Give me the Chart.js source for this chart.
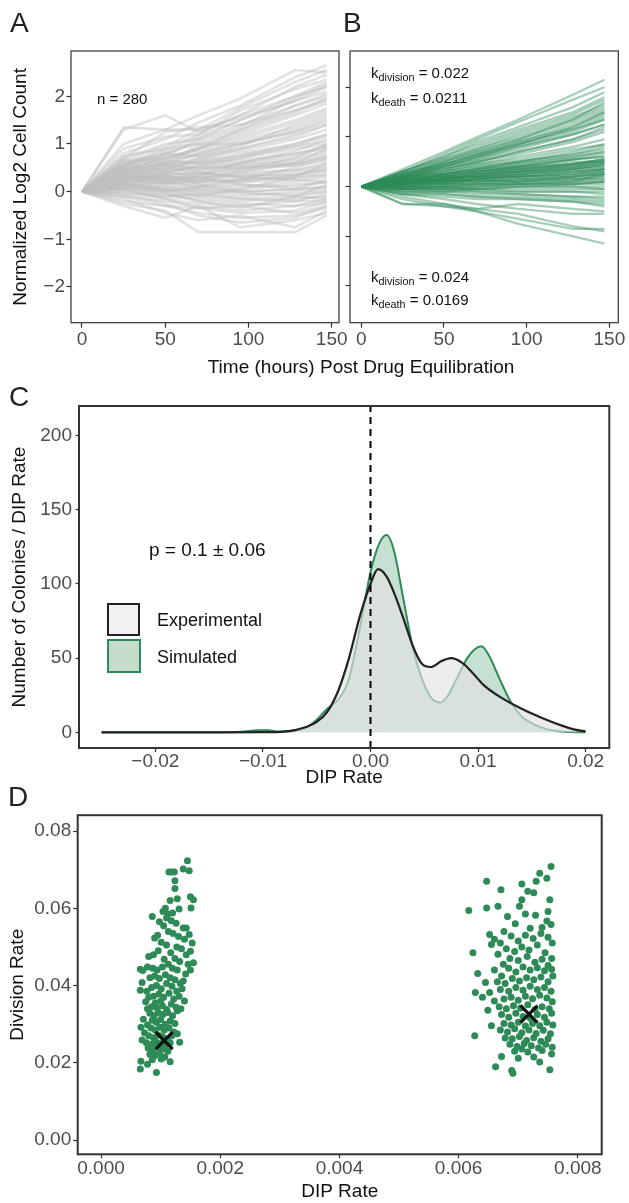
<!DOCTYPE html>
<html>
<head>
<meta charset="utf-8">
<script src="https://cdn.jsdelivr.net/npm/chart.js@4.4.1/dist/chart.umd.min.js"></script>
<style>
  body { margin: 0; background: #fff; }
  #page { position: relative; width: 629px; height: 1203px; overflow: hidden; font-family: 'Liberation Sans', Arial, sans-serif; }
  canvas { position: absolute; }
  .txt { position: absolute; white-space: nowrap; color: #111; }
  .letter { font-size: 28px; line-height: 28px; color: #222; }
  .note { font-size: 15px; line-height: 15px; }
  .note sub { font-size: 0.72em; vertical-align: -0.3em; line-height: 0; }
  .axt { font-size: 19px; line-height: 22px; }
  .leg { position: absolute; width: 30px; height: 30px; }
</style>
</head>
<body>
<div id="page">
  <canvas id="chartA" width="360" height="325" style="left:0px;top:35px"></canvas>
  <canvas id="chartB" width="289" height="325" style="left:340px;top:35px"></canvas>
  <canvas id="chartC" width="629" height="405" style="left:0px;top:390px"></canvas>
  <canvas id="chartD" width="629" height="403" style="left:0px;top:800px"></canvas>

  <div class="txt letter" style="left:10px;top:9px">A</div>
  <div class="txt letter" style="left:343px;top:9px">B</div>
  <div class="txt letter" style="left:9px;top:383px">C</div>
  <div class="txt letter" style="left:8px;top:783px">D</div>

  <div class="txt note" style="left:97px;top:91px">n = 280</div>
  <div class="txt note" style="left:371px;top:65px">k<sub>division</sub> = 0.022</div>
  <div class="txt note" style="left:371px;top:90px">k<sub>death</sub> = 0.0211</div>
  <div class="txt note" style="left:371px;top:269px">k<sub>division</sub> = 0.024</div>
  <div class="txt note" style="left:371px;top:292px">k<sub>death</sub> = 0.0169</div>
  <div class="txt axt" style="left:161px;top:356px;width:400px;text-align:center">Time (hours) Post Drug Equilibration</div>

  <div class="txt" style="left:149px;top:540px;font-size:19px;line-height:19px">p = 0.1 ± 0.06</div>
  <div class="leg" style="left:107px;top:603px;background:#f2f2f2;border:2.5px solid #222;width:29px;height:29px"></div>
  <div class="leg" style="left:107px;top:639px;background:#c5dcca;border:2px solid #2e8b57;width:30px;height:30px"></div>
  <div class="txt" style="left:157px;top:611px;font-size:18px;line-height:18px">Experimental</div>
  <div class="txt" style="left:157px;top:648px;font-size:18px;line-height:18px">Simulated</div>
</div>
<script>
Chart.defaults.font.family = "'Liberation Sans', Arial, sans-serif"

// panels A and B: normalized log2 cell count per colony
const hours = [0, 25, 50, 70, 95, 128, 147]
const expLines = [
	[0, 1.35, 1.3, 1.3, 1.55, 1.9, 2.1],
	[0, 1.3, 1.6, 1.25, 1.6, 2.0, 2.3],
	[0, 1.0, 1.3, 1.6, 1.95, 2.55, 2.5],
	[0, 0.8, 1.1, 1.45, 1.8, 2.4, 2.65],
	[0, 0.75, 0.9, 1.2, 1.6, 2.2, 2.45],
	[0, 0.7, 1.0, 1.1, 1.5, 1.9, 2.2],
	[0, 0.6, 0.8, 1.0, 1.3, 1.8, 2.0],
	[0, 0.65, 0.7, 0.9, 1.2, 1.6, 1.85],
	[0, 0.55, 0.75, 0.85, 1.1, 1.45, 1.7],
	[0, 0.5, 0.6, 0.8, 1.0, 1.3, 1.55],
	[0, 0.6, 0.7, 0.75, 0.9, 1.2, 1.4],
	[0, 0.45, 0.55, 0.7, 0.85, 1.1, 1.3],
	[0, 0.5, 0.65, 0.6, 0.8, 1.0, 1.2],
	[0, 0.4, 0.5, 0.6, 0.7, 0.95, 1.05],
	[0, 0.45, 0.4, 0.55, 0.6, 0.8, 0.95],
	[0, 0.35, 0.45, 0.5, 0.55, 0.7, 0.85],
	[0, 0.4, 0.35, 0.4, 0.5, 0.6, 0.75],
	[0, 0.3, 0.4, 0.35, 0.45, 0.55, 0.65],
	[0, 0.35, 0.3, 0.3, 0.35, 0.45, 0.55],
	[0, 0.25, 0.3, 0.25, 0.3, 0.4, 0.5],
	[0, 0.3, 0.25, 0.2, 0.25, 0.3, 0.4],
	[0, 0.2, 0.2, 0.15, 0.2, 0.25, 0.35],
	[0, 0.25, 0.15, 0.1, 0.1, 0.2, 0.3],
	[0, 0.15, 0.1, 0.05, 0.05, 0.15, 0.2],
	[0, 0.2, 0.05, 0.0, 0.0, 0.05, 0.1],
	[0, 0.1, 0.0, -0.05, -0.1, 0.0, 0.05],
	[0, 0.15, 0.05, -0.1, -0.15, -0.1, 0.0],
	[0, 0.05, -0.1, -0.15, -0.2, -0.15, -0.1],
	[0, 0.0, -0.15, -0.25, -0.3, -0.2, -0.2],
	[0, -0.1, -0.2, -0.3, -0.4, -0.3, -0.25],
	[0, -0.2, -0.3, -0.45, -0.55, -0.5, -0.35],
	[0, -0.3, -0.55, -0.3, -0.75, -0.6, -0.45],
	[0, -0.25, -0.4, -0.85, -0.85, -0.85, -0.5],
	[0, -0.15, -0.45, -0.6, -0.5, -0.75, -0.4],
	[0, 0.55, 0.9, 1.0, 1.0, 1.25, 1.45],
	[0, 0.5, 0.45, 0.65, 0.75, 0.95, 1.15],
	[0, 0.45, 0.6, 0.45, 0.55, 0.65, 0.8],
	[0, 0.3, 0.25, 0.4, 0.3, 0.35, 0.45],
	[0, 0.35, 0.5, 0.4, 0.3, 0.25, 0.2],
	[0, 0.25, 0.35, 0.15, 0.0, -0.1, -0.15],
	[0, 0.4, 0.2, 0.3, 0.15, 0.05, 0.25],
	[0, 0.2, 0.3, 0.2, 0.4, 0.6, 0.9],
	[0, 0.15, 0.2, 0.35, 0.6, 0.85, 1.1],
	[0, 0.1, 0.15, 0.25, 0.45, 0.7, 1.0],
	[0, 0.05, 0.0, 0.1, 0.25, 0.5, 0.7],
	[0, 0.1, -0.05, -0.1, 0.05, 0.3, 0.6],
	[0, 0.0, -0.05, -0.2, -0.35, -0.1, 0.15],
	[0, 0.7, 1.25, 1.35, 1.4, 1.7, 1.95],
	[0, 0.9, 1.15, 1.2, 1.7, 2.15, 2.35],
	[0, 0.65, 0.95, 1.3, 1.75, 2.3, 2.55],
	[0, 0.55, 0.8, 1.05, 1.35, 1.95, 2.25],
	[0, -0.05, -0.25, -0.5, -0.65, -0.55, -0.3],
	[0, 0.45, 0.7, 0.9, 1.15, 1.5, 1.75],
	[0, 0.35, 0.55, 0.8, 1.05, 1.35, 1.6],
	[0, 0.5, 0.8, 0.75, 1.0, 1.25, 1.5],
	[0, 0.3, 0.5, 0.65, 0.9, 1.15, 1.4],
	[0, 0.25, 0.4, 0.55, 0.75, 1.0, 1.2],
	[0, 0.4, 0.6, 0.6, 0.65, 0.8, 0.9],
	[0, 0.2, 0.35, 0.45, 0.6, 0.75, 0.95],
	[0, 0.3, 0.35, 0.35, 0.5, 0.6, 0.7],
	[0, 0.15, 0.3, 0.3, 0.4, 0.45, 0.6],
	[0, 0.2, 0.25, 0.3, 0.35, 0.35, 0.45],
	[0, 0.1, 0.2, 0.2, 0.25, 0.3, 0.35],
	[0, 0.25, 0.2, 0.1, 0.15, 0.1, 0.2],
	[0, 0.05, 0.1, 0.05, 0.0, 0.05, 0.1],
	[0, 0.1, 0.05, 0.0, -0.05, -0.05, 0.0],
	[0, -0.05, -0.1, -0.05, -0.15, -0.2, -0.05],
	[0, 0.15, 0.0, -0.2, -0.25, -0.3, -0.15],
	[0, 0.05, -0.15, -0.35, -0.45, -0.4, -0.2],
	[0, -0.1, -0.3, -0.35, -0.3, -0.45, -0.3],
	[0, 0.55, 0.65, 0.95, 1.25, 1.65, 1.95],
	[0, 0.4, 0.75, 1.1, 1.4, 1.8, 2.05],
	[0, 0.6, 0.85, 1.15, 1.5, 2.0, 2.2],
	[0, 0.35, 0.6, 0.9, 1.3, 1.7, 1.9],
	[0, 0.3, 0.45, 0.7, 0.95, 1.4, 1.65],
	[0, 0.5, 0.55, 0.5, 0.7, 0.9, 1.0],
	[0, 0.2, 0.4, 0.5, 0.5, 0.55, 0.75],
	[0, 0.35, 0.25, 0.25, 0.2, 0.35, 0.5]
]
const simLines = [
	[0, 0.35, 0.7, 1.0, 1.35, 1.85, 2.15],
	[0, 0.3, 0.65, 0.95, 1.3, 1.75, 2.0],
	[0, 0.3, 0.6, 0.85, 1.15, 1.5, 1.8],
	[0, 0.25, 0.55, 0.8, 1.1, 1.45, 1.75],
	[0, 0.3, 0.55, 0.75, 1.05, 1.4, 1.65],
	[0, 0.25, 0.5, 0.75, 1.0, 1.35, 1.6],
	[0, 0.2, 0.5, 0.7, 0.95, 1.3, 1.55],
	[0, 0.25, 0.45, 0.65, 0.9, 1.25, 1.5],
	[0, 0.2, 0.45, 0.6, 0.85, 1.2, 1.45],
	[0, 0.2, 0.4, 0.55, 0.8, 1.1, 1.35],
	[0, 0.15, 0.4, 0.55, 0.75, 1.05, 1.25],
	[0, 0.2, 0.35, 0.5, 0.7, 0.95, 1.15],
	[0, 0.15, 0.35, 0.5, 0.65, 0.9, 1.1],
	[0, 0.15, 0.3, 0.45, 0.55, 0.75, 0.85],
	[0, 0.2, 0.3, 0.4, 0.5, 0.65, 0.75],
	[0, 0.1, 0.25, 0.35, 0.45, 0.6, 0.7],
	[0, 0.15, 0.25, 0.3, 0.4, 0.55, 0.6],
	[0, 0.1, 0.2, 0.3, 0.35, 0.45, 0.55],
	[0, 0.15, 0.2, 0.25, 0.35, 0.4, 0.5],
	[0, 0.1, 0.15, 0.25, 0.3, 0.4, 0.45],
	[0, 0.05, 0.15, 0.2, 0.25, 0.35, 0.4],
	[0, 0.1, 0.15, 0.2, 0.25, 0.3, 0.35],
	[0, 0.05, 0.1, 0.15, 0.2, 0.25, 0.3],
	[0, 0.1, 0.1, 0.15, 0.2, 0.2, 0.25],
	[0, 0.05, 0.1, 0.1, 0.15, 0.15, 0.2],
	[0, 0.0, 0.05, 0.1, 0.1, 0.15, 0.15],
	[0, 0.05, 0.05, 0.05, 0.05, 0.1, 0.1],
	[0, 0.0, 0.0, 0.0, 0.05, 0.05, 0.05],
	[0, 0.0, 0.0, -0.05, 0.0, 0.0, 0.0],
	[0, -0.05, -0.05, -0.05, -0.05, -0.05, -0.05],
	[0, -0.05, -0.05, -0.1, -0.1, -0.1, -0.15],
	[0, -0.1, -0.1, -0.15, -0.15, -0.2, -0.2],
	[0, -0.1, -0.15, -0.2, -0.2, -0.25, -0.3],
	[0, -0.15, -0.2, -0.25, -0.25, -0.3, -0.4],
	[0, -0.35, -0.4, -0.45, -0.35, -0.45, -0.5],
	[0, -0.35, -0.35, -0.45, -0.55, -0.8, -0.9],
	[0, -0.25, -0.4, -0.5, -0.65, -0.85, -0.85],
	[0, -0.2, -0.35, -0.5, -0.75, -1.0, -1.15],
	[0, -0.15, -0.25, -0.35, -0.45, -0.55, -0.55],
	[0, 0.15, 0.2, 0.3, 0.4, 0.55, 0.6],
	[0, 0.1, 0.2, 0.3, 0.35, 0.5, 0.5],
	[0, 0.2, 0.25, 0.35, 0.4, 0.45, 0.5],
	[0, 0.05, 0.15, 0.25, 0.3, 0.35, 0.4],
	[0, 0.1, 0.05, 0.15, 0.25, 0.3, 0.35],
	[0, 0.15, 0.1, 0.15, 0.1, 0.2, 0.25],
	[0, 0.05, 0.15, 0.1, 0.15, 0.2, 0.3],
	[0, 0.1, 0.2, 0.2, 0.3, 0.45, 0.55],
	[0, -0.05, 0.0, 0.05, 0.1, 0.15, 0.2],
	[0, 0.0, -0.05, 0.0, 0.05, 0.1, 0.25],
	[0, -0.05, -0.1, -0.05, 0.0, 0.05, 0.1],
	[0, 0.25, 0.45, 0.65, 0.85, 1.15, 1.35],
	[0, 0.2, 0.4, 0.6, 0.8, 1.05, 1.25],
	[0, 0.3, 0.6, 0.9, 1.2, 1.6, 1.9],
	[0, 0.25, 0.5, 0.7, 0.95, 1.35, 1.7],
	[0, 0.2, 0.45, 0.65, 0.9, 1.2, 1.5],
	[0, 0.2, 0.4, 0.6, 0.85, 1.15, 1.4],
	[0, 0.15, 0.35, 0.5, 0.7, 0.95, 1.2],
	[0, 0.15, 0.3, 0.45, 0.6, 0.8, 0.95],
	[0, 0.1, 0.25, 0.35, 0.5, 0.65, 0.8],
	[0, 0.1, 0.2, 0.3, 0.4, 0.55, 0.65],
	[0, 0.1, 0.15, 0.25, 0.35, 0.45, 0.55],
	[0, 0.05, 0.15, 0.2, 0.3, 0.35, 0.45],
	[0, 0.05, 0.1, 0.15, 0.2, 0.3, 0.35],
	[0, 0.05, 0.05, 0.1, 0.15, 0.2, 0.25],
	[0, 0.0, 0.05, 0.05, 0.1, 0.1, 0.15],
	[0, 0.0, 0.0, 0.05, 0.05, 0.05, 0.1],
	[0, -0.05, 0.0, 0.0, 0.0, 0.0, -0.05],
	[0, -0.05, -0.05, -0.05, -0.1, -0.1, -0.1],
	[0, -0.1, -0.1, -0.1, -0.15, -0.2, -0.25],
	[0, -0.15, -0.15, -0.2, -0.25, -0.3, -0.35],
	[0, 0.1, 0.25, 0.35, 0.45, 0.6, 0.7],
	[0, 0.15, 0.25, 0.4, 0.5, 0.7, 0.85],
	[0, 0.05, 0.15, 0.25, 0.3, 0.4, 0.5],
	[0, 0.0, 0.1, 0.15, 0.2, 0.25, 0.3],
	[0, 0.1, 0.15, 0.2, 0.2, 0.25, 0.35],
	[0, 0.05, 0.1, 0.2, 0.25, 0.35, 0.45]
]
const hourTicks = [0, 50, 100, 150]
const log2Ticks = [-2, -1, 0, 1, 2]

// panel C: density of DIP rates
const expDip = [-0.025, -0.02, -0.015, -0.01, -0.008, -0.007, -0.006, -0.005, -0.004, -0.003, -0.002, -0.001, 0, 0.0007, 0.0015, 0.0023, 0.003, 0.004, 0.0048, 0.0056, 0.0066, 0.0075, 0.0085, 0.0095, 0.0105, 0.012, 0.014, 0.016, 0.018, 0.019, 0.02]
const expDensity = [0, 0, 0, 0.1, 0.5, 1.5, 3.5, 7, 14, 28, 50, 78, 100, 110, 105, 92, 78, 57, 46, 44, 48, 50, 47, 40, 32, 24, 16, 9.5, 4, 1.8, 0.5]
const simDip = [-0.025, -0.02, -0.015, -0.012, -0.0105, -0.0095, -0.0085, -0.007, -0.006, -0.005, -0.004, -0.003, -0.002, -0.001, 0, 0.0008, 0.0015, 0.0022, 0.003, 0.004, 0.005, 0.0058, 0.0065, 0.0073, 0.008, 0.009, 0.0097, 0.0103, 0.011, 0.012, 0.013, 0.014, 0.015, 0.016, 0.017, 0.018, 0.019, 0.02]
const simDensity = [0, 0, 0, 0.3, 1.3, 1.3, 0.5, 1.2, 3, 8.5, 16, 22, 36, 70, 108, 127, 133, 122, 92, 55, 32, 22, 20, 26, 36, 50, 56, 58, 52, 36, 21, 11, 6, 3, 1.2, 0.4, 0.1, 0]
const dipTicks = [-0.02, -0.01, 0, 0.01, 0.02]
const dipTickLabels = ['\u22120.02', '\u22120.01', '0.00', '0.01', '0.02']
const countTicks = [0, 50, 100, 150, 200]

// panel D: division rate against DIP rate, two clusters plus their centres
const leftCluster = [
	[0.00145,0.0723],[0.00148,0.0697],[0.00138,0.0702],[0.00114,0.0694],[0.00119,0.0694],[0.00123,0.0694],[0.00124,0.0671],[0.00124,0.0651],
	[0.00128,0.0625],[0.00116,0.0620],[0.00150,0.0630],[0.00155,0.0622],[0.00151,0.0601],[0.00086,0.0579],[0.00108,0.0600],[0.00104,0.0592],
	[0.00112,0.0585],[0.00120,0.0588],[0.00131,0.0598],[0.00098,0.0565],[0.00110,0.0575],[0.00118,0.0568],[0.00126,0.0561],[0.00105,0.0555],
	[0.00138,0.0549],[0.00143,0.0549],[0.00148,0.0532],[0.00095,0.0530],[0.00090,0.0523],[0.00113,0.0540],[0.00121,0.0535],[0.00130,0.0527],
	[0.00140,0.0520],[0.00153,0.0510],[0.00150,0.0489],[0.00155,0.0459],[0.00101,0.0512],[0.00110,0.0505],[0.00127,0.0500],[0.00135,0.0495],
	[0.00143,0.0480],[0.00096,0.0490],[0.00088,0.0480],[0.00117,0.0485],[0.00124,0.0470],[0.00132,0.0462],[0.00146,0.0455],[0.00106,0.0468],
	[0.00080,0.0475],[0.00113,0.0455],[0.00066,0.0442],[0.00070,0.0439],[0.00078,0.0448],[0.00087,0.0445],[0.00094,0.0440],[0.00103,0.0448],
	[0.00120,0.0445],[0.00128,0.0440],[0.00138,0.0412],[0.00142,0.0430],[0.00150,0.0440],[0.00069,0.0408],[0.00082,0.0420],[0.00090,0.0425],
	[0.00098,0.0418],[0.00108,0.0428],[0.00116,0.0420],[0.00124,0.0415],[0.00133,0.0405],[0.00077,0.0385],[0.00066,0.0388],[0.00085,0.0395],
	[0.00093,0.0400],[0.00101,0.0392],[0.00110,0.0405],[0.00119,0.0398],[0.00127,0.0385],[0.00136,0.0392],[0.00080,0.0370],[0.00088,0.0372],
	[0.00097,0.0378],[0.00105,0.0370],[0.00114,0.0380],[0.00122,0.0365],[0.00131,0.0372],[0.00140,0.0360],[0.00075,0.0358],[0.00091,0.0355],
	[0.00100,0.0360],[0.00118,0.0352],[0.00071,0.0313],[0.00067,0.0292],[0.00078,0.0340],[0.00085,0.0345],[0.00094,0.0342],[0.00103,0.0348],
	[0.00110,0.0338],[0.00126,0.0344],[0.00134,0.0340],[0.00128,0.0335],[0.00082,0.0328],[0.00089,0.0322],[0.00096,0.0330],[0.00104,0.0325],
	[0.00112,0.0330],[0.00120,0.0322],[0.00086,0.0310],[0.00093,0.0305],[0.00100,0.0312],[0.00108,0.0300],[0.00116,0.0308],[0.00124,0.0302],
	[0.00078,0.0298],[0.00084,0.0290],[0.00091,0.0285],[0.00099,0.0292],[0.00106,0.0285],[0.00114,0.0290],[0.00122,0.0280],[0.00128,0.0275],
	[0.00073,0.0278],[0.00080,0.0270],[0.00088,0.0265],[0.00096,0.0272],[0.00103,0.0268],[0.00111,0.0262],[0.00119,0.0270],[0.00132,0.0253],
	[0.00069,0.0259],[0.00076,0.0252],[0.00085,0.0248],[0.00092,0.0255],[0.00100,0.0250],[0.00108,0.0245],[0.00116,0.0252],[0.00079,0.0238],
	[0.00087,0.0232],[0.00095,0.0240],[0.00103,0.0235],[0.00112,0.0230],[0.00082,0.0222],[0.00090,0.0218],[0.00098,0.0225],[0.00107,0.0215],
	[0.00116,0.0203],[0.00067,0.0204],[0.00066,0.0184],[0.00078,0.0196],[0.00093,0.0175],[0.00086,0.0208],[0.00101,0.0210]
]
const rightCluster = [
	[0.00755,0.0708],[0.00736,0.0691],[0.00748,0.0678],[0.00730,0.0670],[0.00706,0.0663],[0.00647,0.0670],[0.00716,0.0644],[0.00726,0.0640],
	[0.00671,0.0648],[0.00706,0.0622],[0.00753,0.0622],[0.00617,0.0594],[0.00647,0.0601],[0.00666,0.0605],[0.00702,0.0605],[0.00682,0.0579],
	[0.00729,0.0582],[0.00750,0.0592],[0.00748,0.0567],[0.00712,0.0585],[0.00740,0.0550],[0.00755,0.0558],[0.00695,0.0560],[0.00720,0.0548],
	[0.00676,0.0540],[0.00652,0.0532],[0.00655,0.0506],[0.00666,0.0481],[0.00624,0.0485],[0.00660,0.0520],[0.00670,0.0510],[0.00688,0.0528],
	[0.00700,0.0515],[0.00712,0.0530],[0.00725,0.0522],[0.00738,0.0535],[0.00750,0.0525],[0.00757,0.0510],[0.00680,0.0495],[0.00694,0.0488],
	[0.00706,0.0500],[0.00718,0.0492],[0.00732,0.0505],[0.00745,0.0485],[0.00756,0.0470],[0.00686,0.0470],[0.00700,0.0465],[0.00715,0.0475],
	[0.00728,0.0460],[0.00740,0.0468],[0.00675,0.0455],[0.00750,0.0452],[0.00632,0.0431],[0.00628,0.0382],[0.00645,0.0408],[0.00652,0.0382],
	[0.00660,0.0440],[0.00672,0.0425],[0.00684,0.0445],[0.00696,0.0435],[0.00708,0.0448],[0.00720,0.0440],[0.00732,0.0446],[0.00744,0.0438],
	[0.00756,0.0442],[0.00665,0.0410],[0.00678,0.0405],[0.00690,0.0418],[0.00702,0.0412],[0.00714,0.0420],[0.00726,0.0415],[0.00738,0.0422],
	[0.00750,0.0410],[0.00758,0.0425],[0.00670,0.0390],[0.00684,0.0385],[0.00696,0.0395],[0.00708,0.0388],[0.00720,0.0398],[0.00732,0.0390],
	[0.00744,0.0395],[0.00755,0.0385],[0.00676,0.0365],[0.00688,0.0370],[0.00700,0.0362],[0.00712,0.0372],[0.00724,0.0366],[0.00736,0.0375],
	[0.00748,0.0368],[0.00757,0.0358],[0.00640,0.0370],[0.00660,0.0360],[0.00649,0.0336],[0.00655,0.0296],[0.00627,0.0270],[0.00668,0.0345],
	[0.00680,0.0340],[0.00692,0.0348],[0.00704,0.0342],[0.00716,0.0350],[0.00728,0.0338],[0.00740,0.0345],[0.00752,0.0340],[0.00672,0.0325],
	[0.00684,0.0318],[0.00696,0.0328],[0.00708,0.0320],[0.00720,0.0315],[0.00732,0.0325],[0.00744,0.0318],[0.00756,0.0328],[0.00676,0.0302],
	[0.00688,0.0298],[0.00700,0.0305],[0.00712,0.0295],[0.00724,0.0302],[0.00736,0.0296],[0.00748,0.0305],[0.00758,0.0298],[0.00670,0.0285],
	[0.00682,0.0280],[0.00694,0.0288],[0.00706,0.0278],[0.00718,0.0285],[0.00730,0.0276],[0.00742,0.0284],[0.00754,0.0275],[0.00678,0.0264],
	[0.00690,0.0262],[0.00702,0.0268],[0.00714,0.0258],[0.00726,0.0265],[0.00738,0.0256],[0.00750,0.0262],[0.00686,0.0248],[0.00698,0.0242],
	[0.00710,0.0250],[0.00722,0.0244],[0.00734,0.0238],[0.00746,0.0248],[0.00757,0.0240],[0.00694,0.0230],[0.00716,0.0228],[0.00740,0.0232],
	[0.00662,0.0190],[0.00672,0.0216],[0.00689,0.0180],[0.00691,0.0173],[0.00706,0.0236],[0.00726,0.0215],[0.00736,0.0202],[0.00753,0.0182],
	[0.00756,0.0223],[0.00700,0.0212]
]
const centres = [[0.00106, 0.02575], [0.00718, 0.0326]]
const rateTicksX = [0, 0.002, 0.004, 0.006, 0.008]
const rateTickLabelsX = ['0.000', '0.002', '0.004', '0.006', '0.008']
const divTicks = [0, 0.02, 0.04, 0.06, 0.08]
const divTickLabels = ['0.00', '0.02', '0.04', '0.06', '0.08']

const green = 'rgb(46,139,87)'

// black frame round the plotting area, like ggplot's panel border
const panelBox = {
	id: 'panelBox',
	afterDatasetsDraw(chart, args, opts) {
		const {ctx, chartArea: a} = chart
		ctx.save()
		ctx.strokeStyle = '#333'
		ctx.lineWidth = opts.width
		ctx.strokeRect(a.left, a.top, a.right - a.left, a.bottom - a.top)
		ctx.restore()
	}
}

// one linear axis with fixed ticks and a fixed box size
axis = (o) => ({
	type: 'linear',
	min: o.min,
	max: o.max,
	afterBuildTicks: s => { s.ticks = o.ticks.map(v => ({value: v})) },
	afterFit: s => { if (s.isHorizontal()) s.height = o.size; else s.width = o.size },
	grid: {display: true, drawOnChartArea: false, drawTicks: true, tickLength: o.tl, tickColor: '#333', tickWidth: 1.2},
	border: {display: false},
	ticks: {
		display: o.labels !== null,
		autoSkip: false,
		maxRotation: 0,
		color: '#4d4d4d',
		font: {size: 19, lineHeight: 1},
		padding: o.pad,
		callback: (v, i) => o.labels ? o.labels[i] : v
	},
	title: o.title ? {display: true, text: o.title, color: '#111', font: {size: 19, lineHeight: 1.2}, padding: o.titlePad} : {display: false}
})

baseOptions = (padding, boxWidth, scales) => ({
	responsive: false,
	maintainAspectRatio: false,
	animation: false,
	layout: {padding: padding},
	plugins: {legend: {display: false}, tooltip: {enabled: false}, panelBox: {width: boxWidth}},
	scales: scales
})

lineSets = (rows, colour, width) => rows.map(row => ({
	data: row.map((v, i) => ({x: hours[i], y: v})),
	borderColor: colour,
	borderWidth: width,
	pointRadius: 0,
	tension: 0,
	fill: false
}))

new Chart(document.getElementById('chartA'), {
	type: 'line',
	data: {datasets: lineSets(expLines, 'rgba(190,190,190,0.45)', 2.6)},
	options: baseOptions({left: 0, top: 16, right: 21, bottom: 7.3}, 1.2, {
		x: axis({min: -6.6, max: 154.4, ticks: hourTicks, labels: hourTicks.map(String), size: 30, tl: 5, pad: 3}),
		y: axis({min: -2.75, max: 2.95, ticks: log2Ticks, labels: ['\u22122', '\u22121', '0', '1', '2'], size: 71, tl: 4.5, pad: 1.5,
			title: 'Normalized Log2 Cell Count', titlePad: {top: 9, bottom: 0}})
	}),
	plugins: [panelBox]
})

new Chart(document.getElementById('chartB'), {
	type: 'line',
	data: {datasets: lineSets(simLines, 'rgba(46,139,87,0.42)', 2.3)},
	options: baseOptions({left: 0, top: 16, right: 10.7, bottom: 7.3}, 1.2, {
		x: axis({min: -6.8, max: 155.4, ticks: hourTicks, labels: hourTicks.map(String), size: 30, tl: 5, pad: 3}),
		y: axis({min: -2.74, max: 2.73, ticks: log2Ticks, labels: null, size: 10, tl: 4.5, pad: 0})
	}),
	plugins: [panelBox]
})

new Chart(document.getElementById('chartC'), {
	type: 'line',
	data: {datasets: [
		{
			data: [{x: 0, y: -10.6}, {x: 0, y: 220}],
			borderColor: '#000', borderWidth: 2, borderDash: [7, 5], pointRadius: 0, fill: false, order: 0
		},
		{
			data: expDip.map((d, i) => ({x: d, y: expDensity[i]})),
			borderColor: '#222', borderWidth: 2.2, backgroundColor: 'rgba(226,226,226,0.65)',
			fill: 'origin', pointRadius: 0, cubicInterpolationMode: 'monotone', order: 1
		},
		{
			data: simDip.map((d, i) => ({x: d, y: simDensity[i]})),
			borderColor: green, borderWidth: 2, backgroundColor: 'rgba(46,139,87,0.27)',
			fill: 'origin', pointRadius: 0, cubicInterpolationMode: 'monotone', order: 2
		}
	]},
	options: baseOptions({left: 0, top: 16, right: 19.7, bottom: 0}, 2, {
		x: axis({min: -0.0271, max: 0.0222, ticks: dipTicks, labels: dipTickLabels, size: 47, tl: 4, pad: 0,
			title: 'DIP Rate', titlePad: {top: 0, bottom: 5.5}}),
		y: axis({min: -10.6, max: 220, ticks: countTicks, labels: countTicks.map(String), size: 79, tl: 3.5, pad: 3.5,
			title: 'Number of Colonies / DIP Rate', titlePad: {top: 8.6, bottom: 0}})
	}),
	plugins: [panelBox]
})

new Chart(document.getElementById('chartD'), {
	type: 'scatter',
	data: {datasets: [
		{
			data: centres.map(p => ({x: p[0], y: p[1]})),
			pointStyle: 'crossRot', pointRadius: 12, borderColor: '#111', borderWidth: 3.2, order: 0
		},
		{
			data: leftCluster.map(p => ({x: p[0], y: p[1]})),
			pointRadius: 3.5, backgroundColor: green, borderColor: green, borderWidth: 0, order: 1
		},
		{
			data: rightCluster.map(p => ({x: p[0], y: p[1]})),
			pointRadius: 3.5, backgroundColor: green, borderColor: green, borderWidth: 0, order: 1
		}
	]},
	options: baseOptions({left: 0, top: 14, right: 27.3, bottom: 0}, 2, {
		x: axis({min: -0.000391, max: 0.0084, ticks: rateTicksX, labels: rateTickLabelsX, size: 48.7, tl: 4, pad: 1.2,
			title: 'DIP Rate', titlePad: {top: 0, bottom: 0}}),
		y: axis({min: -0.00369, max: 0.0841, ticks: divTicks, labels: divTickLabels, size: 77.7, tl: 4.5, pad: 2,
			title: 'Division Rate', titlePad: {top: 6.6, bottom: 0}})
	}),
	plugins: [panelBox]
})
</script>
</body>
</html>
